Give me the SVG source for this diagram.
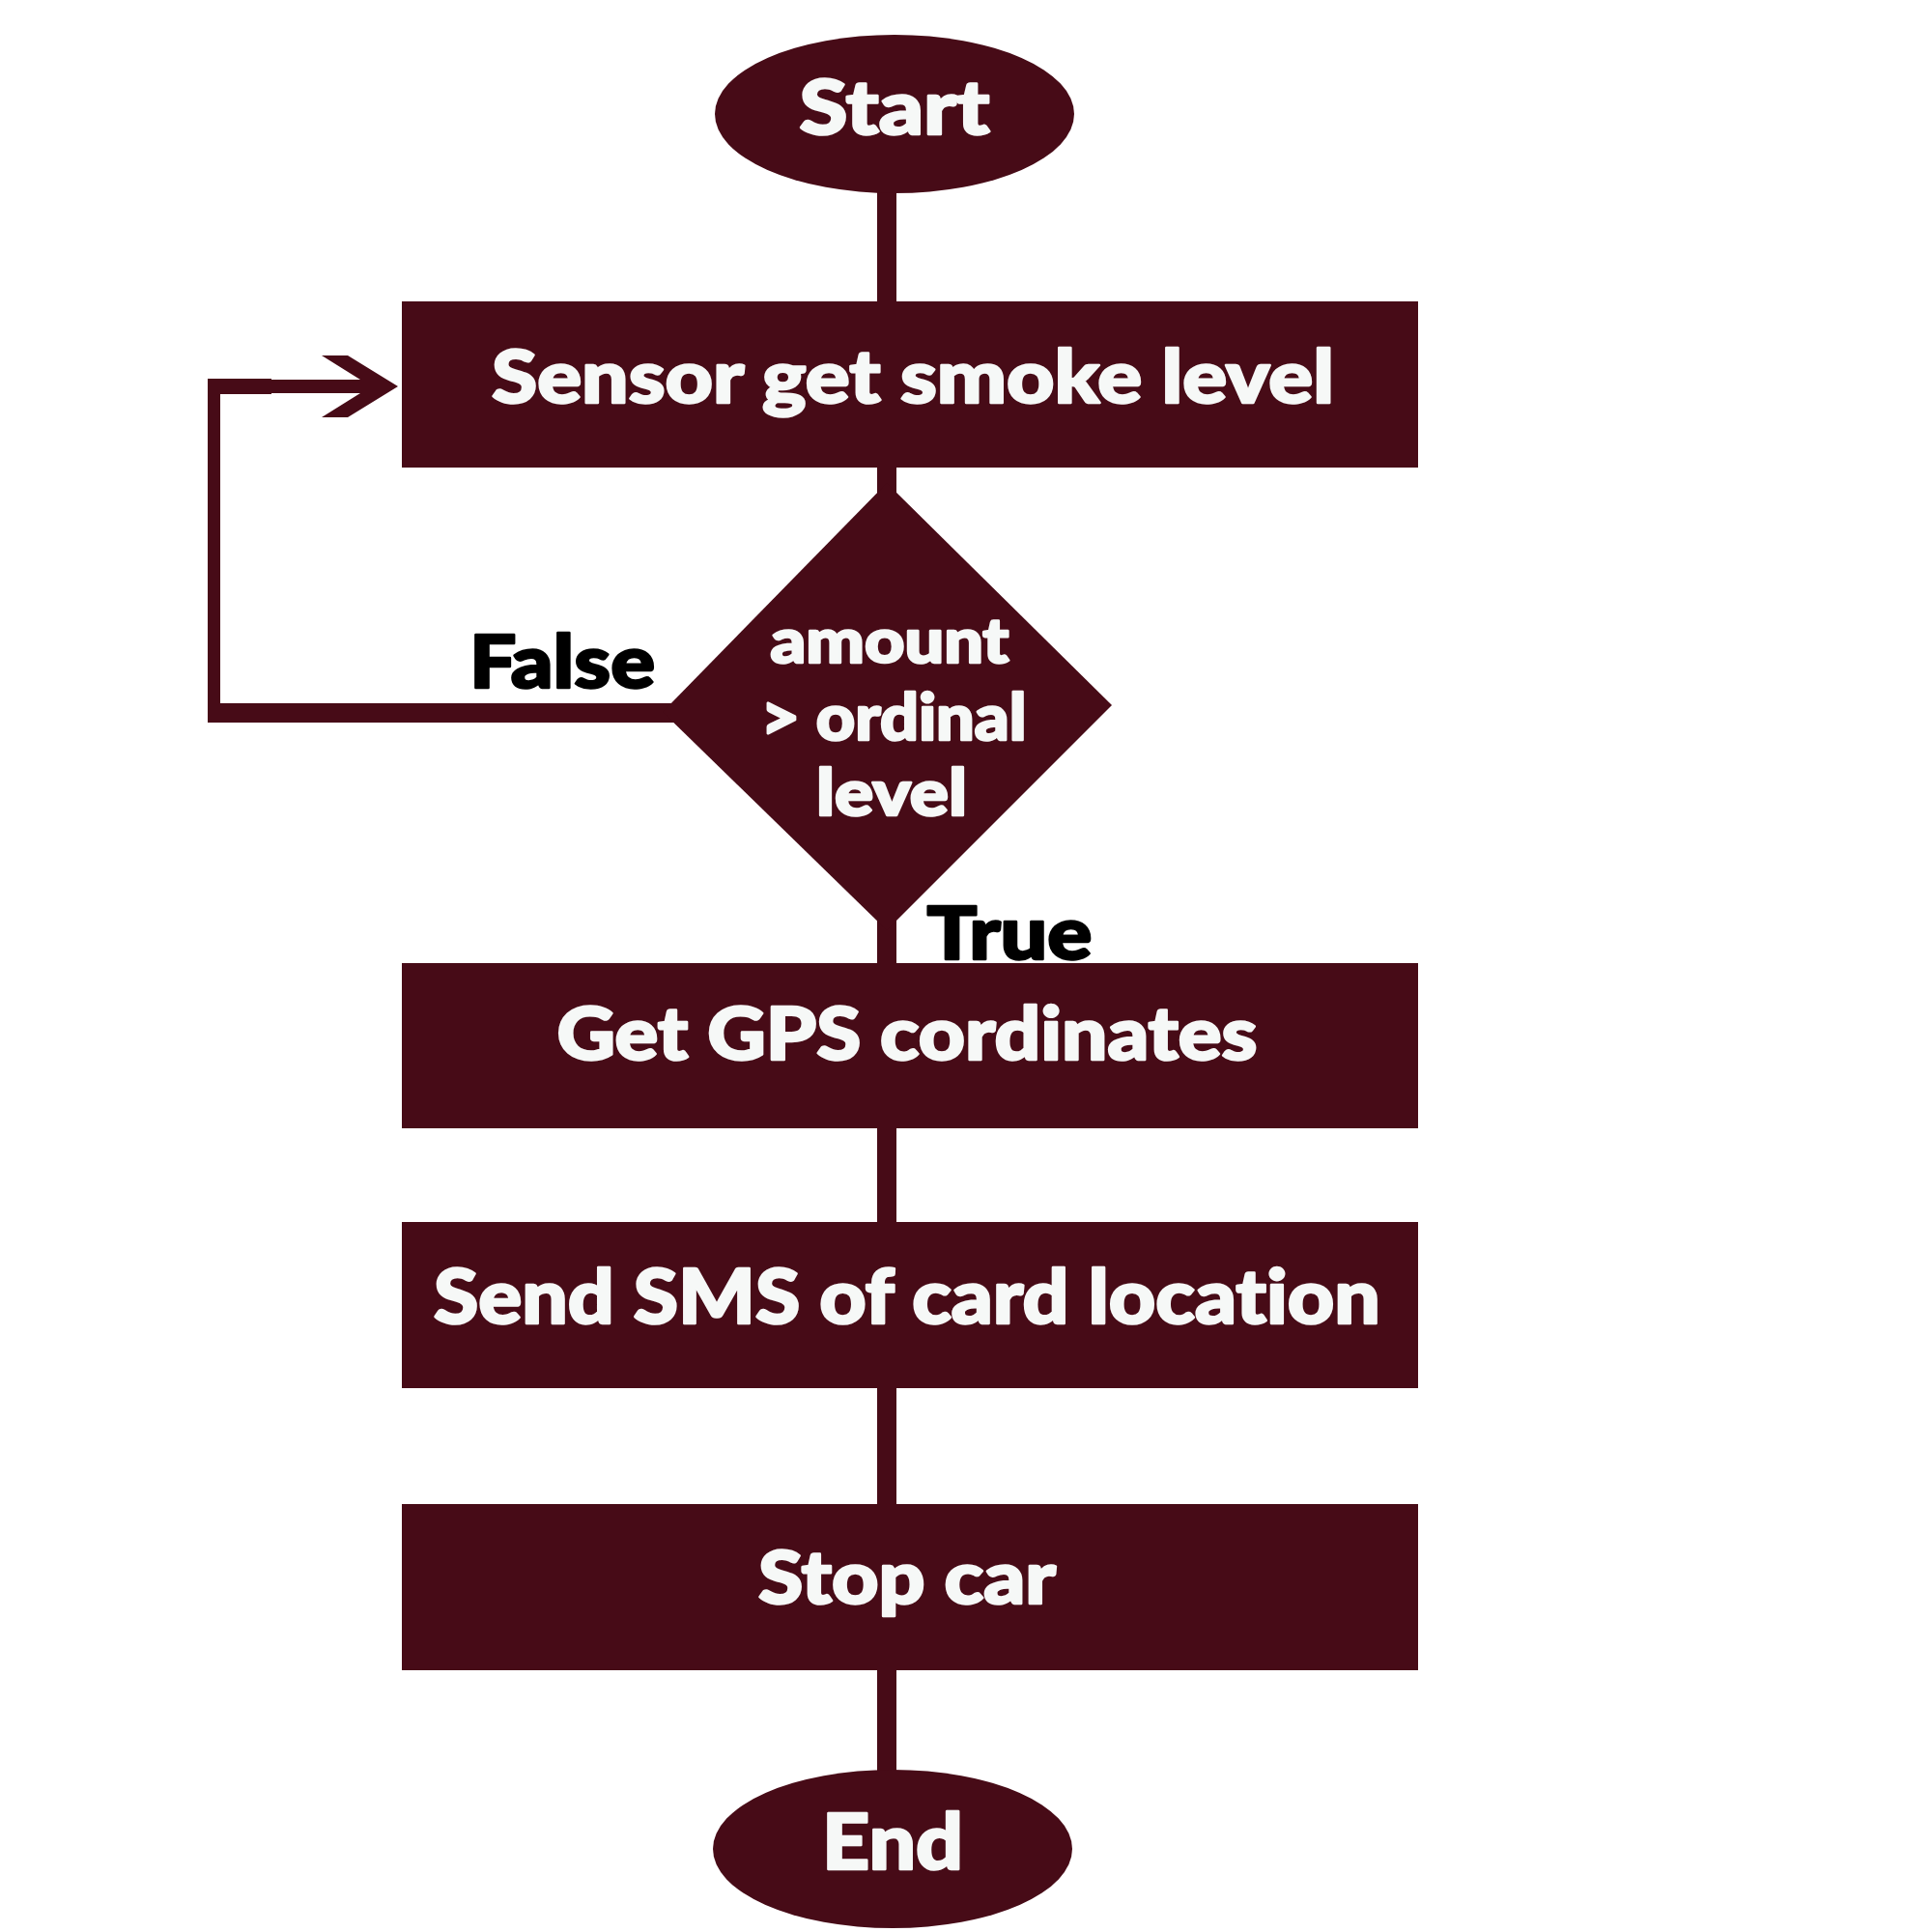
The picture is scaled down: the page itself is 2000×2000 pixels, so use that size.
<svg xmlns="http://www.w3.org/2000/svg" width="2000" height="2000" viewBox="0 0 2000 2000">
  <style>
    .shape { fill: #470b17; }
    .conn { stroke: #470b17; fill: none; }
    .lbl { font-family: Lato, "Liberation Sans", sans-serif; font-weight: 900; fill: #f6f8f7; stroke: #f6f8f7; stroke-width: 2.5; stroke-linejoin: round; text-anchor: middle; font-variant-ligatures: none; }
    .edge { font-family: Lato, "Liberation Sans", sans-serif; font-weight: 900; fill: #000000; stroke: #000000; stroke-width: 2.5; stroke-linejoin: round; text-anchor: middle; font-variant-ligatures: none; }
  </style>
  <rect width="2000" height="2000" fill="#ffffff"/>
  <g id="connectors">
    <line class="conn" x1="918" y1="198" x2="918" y2="314" stroke-width="20"/>
    <line class="conn" x1="918" y1="482" x2="918" y2="515" stroke-width="20"/>
    <line class="conn" x1="918" y1="945" x2="918" y2="999" stroke-width="20"/>
    <line class="conn" x1="918" y1="1166" x2="918" y2="1267" stroke-width="20"/>
    <line class="conn" x1="918" y1="1435" x2="918" y2="1559" stroke-width="20"/>
    <line class="conn" x1="918" y1="1727" x2="918" y2="1836" stroke-width="20"/>
    <line class="conn" x1="700" y1="738" x2="215" y2="738" stroke-width="20"/>
    <line class="conn" x1="221.5" y1="748" x2="221.5" y2="392" stroke-width="13"/>
    <line class="conn" x1="215" y1="400" x2="281" y2="400" stroke-width="16"/>
    <line class="conn" x1="280" y1="400" x2="376" y2="400" stroke-width="14"/>
    <polygon class="shape" points="333,368 360,368 412,400 360,432 333,432 373,407 373,393"/>
  </g>
  <g id="start">
    <ellipse class="shape" cx="926" cy="118" rx="186" ry="82"/>
    <text class="lbl" x="926" y="139" font-size="79" textLength="197" lengthAdjust="spacingAndGlyphs">Start</text>
  </g>
  <g id="sensor">
    <rect class="shape" x="416" y="312" width="1052" height="172"/>
    <text class="lbl" x="945" y="417" font-size="77" textLength="872" lengthAdjust="spacingAndGlyphs">Sensor get smoke level</text>
  </g>
  <g id="decision">
    <polygon class="shape" points="918,500 1151,730 918,963 686,737"/>
    <text class="lbl" x="921" y="686" font-size="64" textLength="247" lengthAdjust="spacingAndGlyphs">amount</text>
    <text class="lbl" x="925" y="766" font-size="66" textLength="275" lengthAdjust="spacingAndGlyphs">&gt; ordinal</text>
    <text class="lbl" x="923" y="844" font-size="66" textLength="156" lengthAdjust="spacingAndGlyphs">level</text>
  </g>
  <g id="label-false">
    <text class="edge" x="582" y="712" font-size="77" textLength="192" lengthAdjust="spacingAndGlyphs">False</text>
  </g>
  <g id="label-true">
    <text class="edge" x="1045" y="993" font-size="77" textLength="171" lengthAdjust="spacingAndGlyphs">True</text>
  </g>
  <g id="gps">
    <rect class="shape" x="416" y="997" width="1052" height="171"/>
    <text class="lbl" x="939" y="1097" font-size="76" textLength="725" lengthAdjust="spacingAndGlyphs">Get GPS cordinates</text>
  </g>
  <g id="sms">
    <rect class="shape" x="416" y="1265" width="1052" height="172"/>
    <text class="lbl" x="939" y="1370" font-size="79" textLength="980" lengthAdjust="spacingAndGlyphs">Send SMS of card location</text>
  </g>
  <g id="stop">
    <rect class="shape" x="416" y="1557" width="1052" height="172"/>
    <text class="lbl" x="939" y="1660" font-size="76" textLength="308" lengthAdjust="spacingAndGlyphs">Stop car</text>
  </g>
  <g id="end">
    <ellipse class="shape" cx="924" cy="1914" rx="186" ry="82"/>
    <text class="lbl" x="924" y="1935" font-size="80" textLength="146" lengthAdjust="spacingAndGlyphs">End</text>
  </g>
</svg>
